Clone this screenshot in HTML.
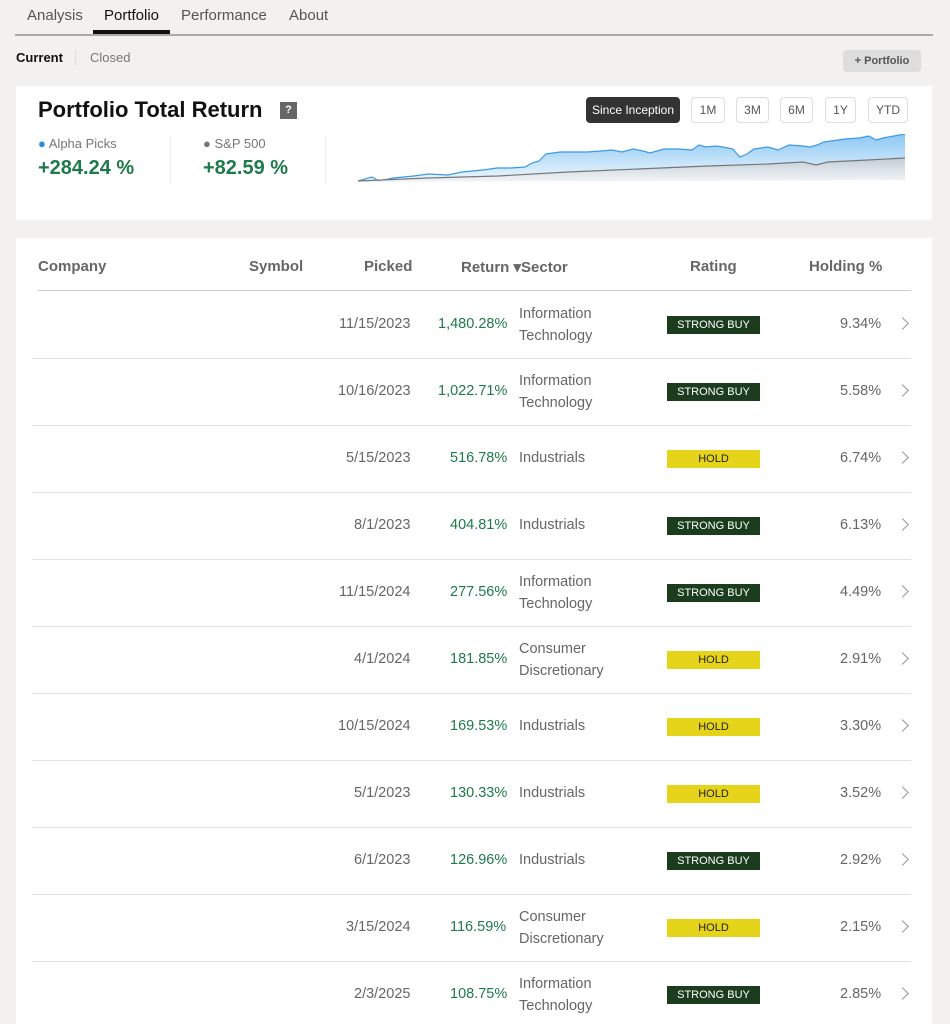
<!DOCTYPE html>
<html style="overflow:hidden"><head><meta charset="utf-8"><style>
body{margin:0;width:950px;height:1024px;background:#f2f1f0;font-family:"Liberation Sans",sans-serif;position:relative;overflow:hidden;color:#333}
.a{position:absolute;white-space:nowrap}
.tab{font-size:15px;color:#555;top:7px}
.card{position:absolute;background:#fff}
.hd{font-size:15px;font-weight:bold;color:#666;top:258px}
.row{position:absolute;left:32px;width:879px;height:67px;border-bottom:1px solid #e2e2e2}
.c{position:absolute;font-size:14.5px;color:#666;top:0;line-height:67px}
.r{color:#1e7a4a}
.s{line-height:22px;top:12px}
.bd{position:absolute;left:635px;top:25px;width:93px;height:18px;font-size:11px;text-align:center;line-height:18px}
.sb{background:#1c3d1d;color:#fff}
.ho{background:#e6d41a;color:#222}
.ch{position:absolute;left:866px;top:22px;width:8px;height:8px;border-right:1.5px solid #999;border-top:1.5px solid #999;transform:rotate(45deg)}
.btn{position:absolute;top:97px;height:24px;border:1px solid #ddd;border-radius:4px;font-size:12px;color:#555;line-height:24px;text-align:center}
</style></head><body>
<div class="a tab" style="left:27px">Analysis</div>
<div class="a tab" style="left:104px;color:#111">Portfolio</div>
<div class="a tab" style="left:181px">Performance</div>
<div class="a tab" style="left:289px">About</div>
<div class="a" style="left:15px;top:34px;width:918px;height:2px;background:#aaa"></div>
<div class="a" style="left:93px;top:30px;width:77px;height:4px;background:#111"></div>
<div class="a" style="left:16px;top:50px;font-size:13px;font-weight:bold;color:#111">Current</div>
<div class="a" style="left:75px;top:50px;width:1px;height:15px;background:#ddd"></div>
<div class="a" style="left:90px;top:50px;font-size:13px;color:#777">Closed</div>
<div class="a" style="left:843px;top:50px;width:78px;height:22px;background:#ddd;border-radius:4px;font-size:11px;font-weight:bold;color:#555;text-align:center;line-height:22px">+ Portfolio</div>

<div class="card" style="left:16px;top:86px;width:916px;height:134px"></div>
<div class="a" style="left:38px;top:97px;font-size:22px;font-weight:bold;color:#111">Portfolio Total Return</div>
<div class="a" style="left:280px;top:102px;width:17px;height:17px;background:#666;color:#fff;font-size:11px;font-weight:bold;text-align:center;line-height:17px">?</div>
<div class="btn" style="left:586px;width:92px;background:#333;color:#fff;border-color:#333">Since Inception</div>
<div class="btn" style="left:691px;width:32px">1M</div>
<div class="btn" style="left:736px;width:31px">3M</div>
<div class="btn" style="left:780px;width:31px">6M</div>
<div class="btn" style="left:825px;width:29px">1Y</div>
<div class="btn" style="left:868px;width:38px">YTD</div>
<div class="a" style="left:38px;top:136px;font-size:13px;color:#777"><span style="color:#2a8ae0">●</span> Alpha Picks</div>
<div class="a" style="left:38px;top:157px;font-size:20px;font-weight:bold;color:#1e7a4a">+284.24 %</div>
<div class="a" style="left:170px;top:136px;width:1px;height:48px;background:#eee"></div>
<div class="a" style="left:203px;top:136px;font-size:13px;color:#777"><span style="color:#777">●</span> S&amp;P 500</div>
<div class="a" style="left:203px;top:157px;font-size:20px;font-weight:bold;color:#1e7a4a">+82.59 %</div>
<div class="a" style="left:325px;top:136px;width:1px;height:48px;background:#eee"></div>
<svg class="a" style="left:358px;top:134px" width="550" height="50">
<defs><linearGradient id="g" x1="0" y1="0" x2="0" y2="1"><stop offset="0" stop-color="#8cc8f4"/><stop offset="1" stop-color="#f0f7fd"/></linearGradient>
<linearGradient id="h" x1="0" y1="0" x2="0" y2="1"><stop offset="0" stop-color="#c4c8ce"/><stop offset="1" stop-color="#f4f5f6"/></linearGradient></defs>
<path d="M0,47 L14,43 L21,47 L35,44 L56,42 L70,40 L90,41 L104,38 L125,36 L139,34 L153,34 L167,33 L174,29 L181,27 L188,20 L202,18 L229,18 L243,17 L254,16 L264,18 L275,15 L285,17 L292,19 L299,17 L306,15 L320,15 L334,16 L341,11 L348,13 L358,12 L365,13 L375,15 L379,20 L382,23 L389,20 L396,15 L410,13 L420,16 L431,11 L445,12 L452,13 L459,11 L466,8 L473,7 L487,5 L501,4 L511,2 L518,6 L525,4 L547,0 L547,46 L0,48Z" fill="url(#g)"/>
<path d="M0,47 L14,43 L21,47 L35,44 L56,42 L70,40 L90,41 L104,38 L125,36 L139,34 L153,34 L167,33 L174,29 L181,27 L188,20 L202,18 L229,18 L243,17 L254,16 L264,18 L275,15 L285,17 L292,19 L299,17 L306,15 L320,15 L334,16 L341,11 L348,13 L358,12 L365,13 L375,15 L379,20 L382,23 L389,20 L396,15 L410,13 L420,16 L431,11 L445,12 L452,13 L459,11 L466,8 L473,7 L487,5 L501,4 L511,2 L518,6 L525,4 L547,0" fill="none" stroke="#3a9ae6" stroke-width="1.2"/>
<path d="M0,47 L70,44 L140,42 L210,38 L280,35 L350,32 L410,30 L445,28 L458,31 L470,28 L510,26 L547,24 L547,46 L0,48Z" fill="url(#h)" fill-opacity="0.8"/>
<path d="M0,47 L70,44 L140,42 L210,38 L280,35 L350,32 L410,30 L445,28 L458,31 L470,28 L510,26 L547,24" fill="none" stroke="#777" stroke-width="1.2"/>
</svg>

<div class="card" style="left:16px;top:238px;width:916px;height:786px"></div>
<div class="a hd" style="left:38px">Company</div>
<div class="a hd" style="left:249px">Symbol</div>
<div class="a hd" style="left:364px">Picked</div>
<div class="a hd" style="left:461px">Return ▾Sector</div>
<div class="a hd" style="left:690px">Rating</div>
<div class="a hd" style="left:809px">Holding %</div>
<div class="a" style="left:38px;top:290px;width:873px;height:1px;background:#ccc"></div>

<div style="position:absolute;left:0;top:291px">
<div class="row" style="top:0"><div class="c" style="left:307px">11/15/2023</div><div class="c r" style="left:406px">1,480.28%</div><div class="c s" style="left:487px">Information<br>Technology</div><div class="bd sb">STRONG BUY</div><div class="c" style="left:808px">9.34%</div><div class="ch" style="top:28px"></div></div>
<div class="row" style="top:67px"><div class="c" style="left:306px">10/16/2023</div><div class="c r" style="left:406px">1,022.71%</div><div class="c s" style="left:487px">Information<br>Technology</div><div class="bd sb">STRONG BUY</div><div class="c" style="left:808px">5.58%</div><div class="ch" style="top:28px"></div></div>
<div class="row" style="top:134px"><div class="c" style="left:314px">5/15/2023</div><div class="c r" style="left:418px">516.78%</div><div class="c" style="left:487px">Industrials</div><div class="bd ho">HOLD</div><div class="c" style="left:808px">6.74%</div><div class="ch" style="top:28px"></div></div>
<div class="row" style="top:201px"><div class="c" style="left:322px">8/1/2023</div><div class="c r" style="left:418px">404.81%</div><div class="c" style="left:487px">Industrials</div><div class="bd sb">STRONG BUY</div><div class="c" style="left:808px">6.13%</div><div class="ch" style="top:28px"></div></div>
<div class="row" style="top:268px"><div class="c" style="left:307px">11/15/2024</div><div class="c r" style="left:418px">277.56%</div><div class="c s" style="left:487px">Information<br>Technology</div><div class="bd sb">STRONG BUY</div><div class="c" style="left:808px">4.49%</div><div class="ch" style="top:28px"></div></div>
<div class="row" style="top:335px"><div class="c" style="left:322px">4/1/2024</div><div class="c r" style="left:418px">181.85%</div><div class="c s" style="left:487px">Consumer<br>Discretionary</div><div class="bd ho">HOLD</div><div class="c" style="left:808px">2.91%</div><div class="ch" style="top:28px"></div></div>
<div class="row" style="top:402px"><div class="c" style="left:306px">10/15/2024</div><div class="c r" style="left:418px">169.53%</div><div class="c" style="left:487px">Industrials</div><div class="bd ho">HOLD</div><div class="c" style="left:808px">3.30%</div><div class="ch" style="top:28px"></div></div>
<div class="row" style="top:469px"><div class="c" style="left:322px">5/1/2023</div><div class="c r" style="left:418px">130.33%</div><div class="c" style="left:487px">Industrials</div><div class="bd ho">HOLD</div><div class="c" style="left:808px">3.52%</div><div class="ch" style="top:28px"></div></div>
<div class="row" style="top:536px"><div class="c" style="left:322px">6/1/2023</div><div class="c r" style="left:418px">126.96%</div><div class="c" style="left:487px">Industrials</div><div class="bd sb">STRONG BUY</div><div class="c" style="left:808px">2.92%</div><div class="ch" style="top:28px"></div></div>
<div class="row" style="top:603px"><div class="c" style="left:314px">3/15/2024</div><div class="c r" style="left:418px">116.59%</div><div class="c s" style="left:487px">Consumer<br>Discretionary</div><div class="bd ho">HOLD</div><div class="c" style="left:808px">2.15%</div><div class="ch" style="top:28px"></div></div>
<div class="row" style="top:670px"><div class="c" style="left:322px">2/3/2025</div><div class="c r" style="left:418px">108.75%</div><div class="c s" style="left:487px">Information<br>Technology</div><div class="bd sb">STRONG BUY</div><div class="c" style="left:808px">2.85%</div><div class="ch" style="top:28px"></div></div>
</div>
</body></html>
